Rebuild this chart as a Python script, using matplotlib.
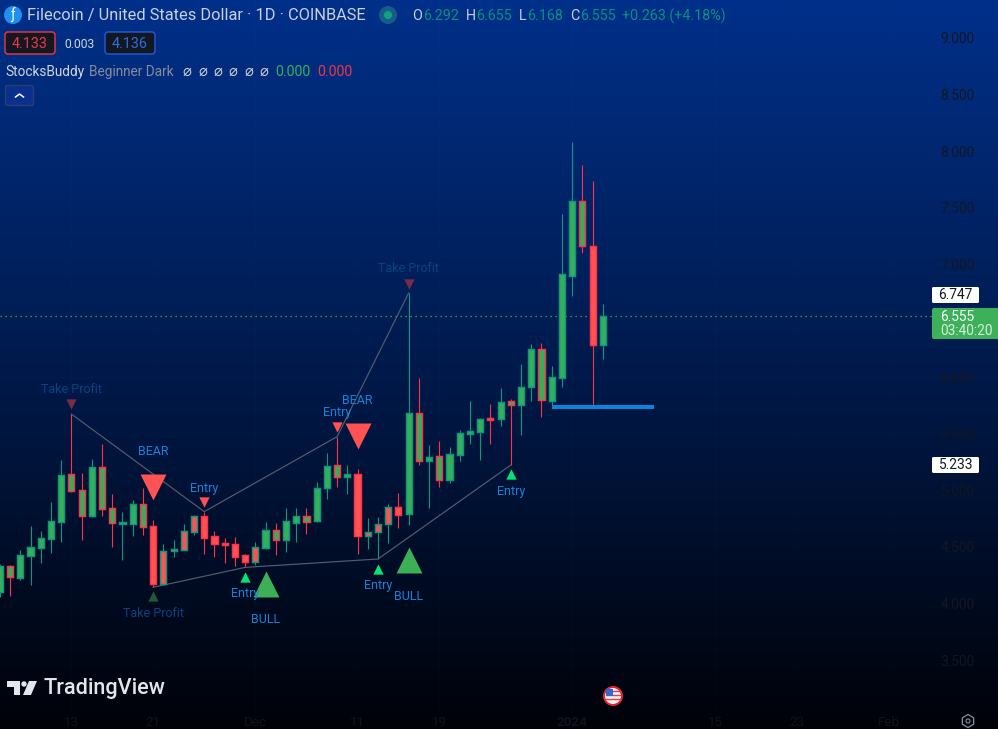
import numpy as np
import matplotlib
matplotlib.use('Agg')
import matplotlib.pyplot as plt
from matplotlib.colors import LinearSegmentedColormap
from matplotlib.patches import Rectangle, Circle, FancyBboxPatch, Polygon, RegularPolygon

plt.rcParams['font.family'] = ['Roboto', 'DejaVu Sans']

# ---------- data ----------
days = list(range(-7, 53))
opens = [4.104,4.328,4.228,4.422,4.493,4.573,4.723,5.142,5.000,4.776,5.203,4.841,4.705,4.705,4.876,
         4.682,4.175,4.467,4.476,4.629,4.773,4.593,4.534,4.523,4.425,4.369,4.493,4.646,4.564,4.714,
         4.770,4.729,5.024,5.221,5.121,5.142,4.599,4.635,4.705,4.853,4.794,5.681,5.262,5.301,5.094,
         5.313,5.501,5.519,5.637,5.634,5.791,5.758,5.917,6.247,5.794,5.997,6.899,7.556,7.158,6.283]
closes = [4.331,4.231,4.425,4.496,4.576,4.726,5.133,4.997,4.776,5.203,4.838,4.714,4.711,4.876,4.679,
          4.175,4.461,4.479,4.638,4.770,4.582,4.529,4.520,4.414,4.369,4.496,4.646,4.564,4.726,4.770,
          4.723,5.018,5.212,5.121,5.142,4.599,4.635,4.705,4.850,4.785,5.681,5.262,5.292,5.094,5.318,
          5.504,5.522,5.628,5.625,5.778,5.758,5.911,6.247,5.796,6.000,6.910,7.556,7.158,6.283,6.539]
highs = [4.345,4.340,4.470,4.685,4.638,4.897,5.268,5.675,5.153,5.277,5.410,4.968,4.806,4.915,5.021,
         4.738,4.526,4.561,4.703,4.782,4.812,4.638,4.579,4.588,4.437,4.543,4.720,4.708,4.841,4.841,
         4.841,5.074,5.327,5.475,5.221,5.189,4.753,4.764,4.876,4.974,6.745,5.993,5.401,5.436,5.380,
         5.531,5.787,5.643,5.763,5.902,5.805,6.118,6.295,6.300,6.100,7.444,8.077,7.877,7.736,6.648]
lows = [4.060,4.066,4.207,4.163,4.361,4.449,4.546,4.988,4.561,4.761,4.776,4.502,4.384,4.596,4.605,
        4.143,4.163,4.414,4.473,4.605,4.437,4.414,4.361,4.331,4.319,4.340,4.481,4.428,4.458,4.543,
        4.614,4.720,4.923,5.033,4.968,4.437,4.481,4.393,4.537,4.670,4.694,5.224,4.847,5.030,5.068,
        5.259,5.410,5.268,5.410,5.569,5.224,5.489,5.794,5.652,5.726,5.917,6.722,7.102,5.740,6.165]
# trend state from the indicator: 1 = bull fill, 0 = bear fill
trend = [1]*15 + [0]*11 + [1]*9 + [0]*5 + [1]*18 + [0] + [1]

line_a_days = [0, 13, 26, 33]
line_a_vals = [5.675, 4.812, 5.475, 6.745]
line_b_days = [8, 17, 30, 43]
line_b_vals = [4.143, 4.319, 4.393, 5.224]
level_days = [47, 57]
level_val = 5.740
last_price = 6.539

big_bear = ([8, 28], [5.034, 5.485])
big_bull = ([19, 33], [4.172, 4.384])
entry_bear = ([13, 26], [4.897, 5.560])
entry_bull = ([17, 30, 43], [4.238, 4.309, 5.145])
tp_bear = ([0, 33], [5.768, 6.825])
tp_bull = ([8], [4.066])

labels_bright = [(8, 5.340, 'BEAR'), (13, 5.013, 'Entry'), (26, 5.685, 'Entry'), (28.0, 5.791, 'BEAR'),
                 (43, 4.986, 'Entry'), (17, 4.084, 'Entry'), (19, 3.854, 'BULL'),
                 (30, 4.155, 'Entry'), (33, 4.060, 'BULL')]
labels_dim = [(0, 5.888, 'Take Profit'), (33, 6.958, 'Take Profit'), (8, 3.907, 'Take Profit')]

y_ticks = [3.5, 4.0, 4.5, 5.0, 5.5, 6.0, 6.5, 7.0, 7.5, 8.0, 8.5, 9.0]
x_ticks = [0, 8, 18, 28, 36, 49, 63, 71, 80]
x_labels = ['13', '21', 'Dec', '11', '19', '2024', '15', '23', 'Feb']

# ---------- colours ----------
UP, DOWN = '#089981', '#FF3048'
FILL_UP, FILL_DOWN = '#39AE58', '#FF5252'
TXT = '#D1D4DC'

fig = plt.figure(figsize=(9.98, 7.29), dpi=100)
ax = fig.add_axes([0, 0, 1, 1])
ax.set_xlim(-6.986, 90.67)
ax.set_ylim(2.890, 9.336)

cmap = LinearSegmentedColormap.from_list('bg', ['#000208', '#001a4c', '#00308A'])
ax.imshow(np.linspace(1, 0, 256)[:, None], cmap=cmap, aspect='auto', zorder=0,
          extent=[-6.986, 90.67, 2.890, 9.336], vmin=0, vmax=1)

for s in ax.spines.values():
    s.set_visible(False)
ax.yaxis.tick_right()
ax.set_yticks(y_ticks)
# the 6.500 label sits behind the last-price tag in the reference
ax.set_yticklabels(['' if v == 6.5 else f'{v:.3f}' for v in y_ticks])
ax.tick_params(axis='y', length=0, pad=-41.5, labelsize=9.9, labelcolor='#131722')
ax.set_xticks(x_ticks)
ax.set_xticklabels(x_labels)
ax.tick_params(axis='x', length=0, pad=-9.2, labelsize=9.6, labelcolor='#10131c')
ax.get_xticklabels()[5].set_fontweight('bold')
ax.grid(True, color='#ffffff', alpha=0.012, lw=0.7, zorder=0.5)

# candles
edge = [UP if c >= o else DOWN for o, c in zip(opens, closes)]
fill = [FILL_UP if t else FILL_DOWN for t in trend]
ax.vlines(days, lows, highs, colors=edge, lw=0.8, zorder=2)
bodies = [max(abs(c - o), 0.012) for o, c in zip(opens, closes)]
ax.bar(days, bodies, bottom=[min(o, c) for o, c in zip(opens, closes)], width=0.60,
       color=fill, edgecolor=edge, linewidth=1.05, zorder=3)

# indicator lines
ax.plot(line_a_days, line_a_vals, color='#555c70', lw=0.85, zorder=2.5)
ax.plot(line_b_days, line_b_vals, color='#555c70', lw=0.85, zorder=2.5)
ax.plot(level_days, [level_val, level_val], color='#0A85DF', lw=2.9, solid_capstyle='butt', zorder=4)
ax.axhline(last_price, color='#3FBF5F', lw=0.9, ls=(0, (1, 3)), zorder=1.5)

# markers
ax.scatter(*big_bear, marker='v', s=350, color='#FF5252', lw=0, zorder=5)
ax.scatter(*big_bull, marker='^', s=350, color='#3CAF57', lw=0, zorder=5)
ax.scatter(*entry_bear, marker='v', s=55, color='#FF5252', lw=0, zorder=5)
ax.scatter(*entry_bull, marker='^', s=55, color='#00E676', lw=0, zorder=5)
ax.scatter(*tp_bear, marker='v', s=55, color='#7C2B45', lw=0, zorder=5)
ax.scatter(*tp_bull, marker='^', s=55, color='#1E5A38', lw=0, zorder=5)
for d, p, t in labels_bright:
    ax.text(d, p, t, color='#1583DA', fontsize=9.0, ha='center', va='center', zorder=6)
for d, p, t in labels_dim:
    ax.text(d, p, t, color='#0B437F', fontsize=9.0, ha='center', va='center', zorder=6)

# ---------- pixel-space chrome ----------
ui = fig.add_axes([0, 0, 1, 1], facecolor='none')
ui.set_xlim(0, 998)
ui.set_ylim(729, 0)
ui.axis('off')

def T(x, y, s, c=TXT, size=9.4, ha='left', w='normal', **kw):
    return ui.text(x, y, s, color=c, fontsize=size, ha=ha, va='center', fontweight=w, **kw)

def box(x0, y0, x1, y1, fc, ec='none', r=2, lw=1):
    ui.add_patch(FancyBboxPatch((x0 + r, y0 + r), x1 - x0 - 2 * r, y1 - y0 - 2 * r,
                                boxstyle=f'round,pad={r},rounding_size={r}', fc=fc, ec=ec, lw=lw, zorder=7))

# header
ui.add_patch(Circle((13, 15), 9, fc='#2090F0', zorder=8))
T(13, 15, '\u0192', c='white', size=10, ha='center', zorder=9)
T(27, 15.5, 'Filecoin / United States Dollar \u00b7 1D \u00b7 COINBASE', size=11.75, c='#C9D0E0', zorder=9)
ui.add_patch(Circle((388, 15), 9, fc='#1A5A8A', zorder=8))
ui.add_patch(Circle((388, 15), 4, fc='#0BA678', zorder=9))
G = '#35B05A'
TEAL = '#0C9080'
ohlc = [(412, 'O', 423, '6.292'), (466, 'H', 476, '6.655'), (519, 'L', 527, '6.168'), (570, 'C', 580, '6.555')]
for x0, a, x1, b in ohlc:
    T(x0, 16, a, size=10.3, c='#C9D0E0', zorder=9)
    T(x1, 16, b, size=10.3, c=TEAL, zorder=9)
T(622, 16, '+0.263 (+4.18%)', size=10.3, c=TEAL, zorder=9)

box(5, 32, 55, 54, '#131722', '#F23645', r=3)
T(30, 43.5, '4.133', c='#F23645', size=10.4, ha='center', zorder=9)
T(80, 44, '0.003', size=8.7, ha='center', zorder=9)
box(105, 32, 155, 54, '#131722', '#1E5FD8', r=3)
T(130, 43.5, '4.136', c='#2A6FE0', size=10.4, ha='center', zorder=9)

T(5, 71.5, 'StocksBuddy', size=9.85, zorder=9)
T(89, 71.5, 'Beginner Dark', size=9.85, c='#868B9C', zorder=9)
for x in [187, 203, 218, 233, 249, 264]:
    T(x, 71.5, '\u2300', size=10.5, ha='center', zorder=9, family='DejaVu Sans')
T(275, 71.5, '0.000', size=10.2, c=G, zorder=9)
T(317, 71.5, '0.000', size=10.2, c='#F23645', zorder=9)
box(5.5, 85.5, 33.5, 105.5, '#0B2F8C', '#2A3E70', r=2)
ui.plot([15.5, 19.5, 23.5], [97, 94, 97], color='white', lw=1.1, zorder=9)

# price scale tags
box(932, 287, 979, 303, 'white', r=1.5)
T(955.5, 295, '6.747', c='#131722', size=9.9, ha='center', zorder=9)
box(932, 457, 979, 473, 'white', r=1.5)
T(955.5, 465, '5.233', c='#131722', size=9.9, ha='center', zorder=9)
box(932, 308, 1003, 339, '#3CB15A', r=2)
T(940, 316.5, '6.555', c='white', size=9.9, zorder=9)
T(940, 330.5, '03:40:20', c='#D5F0DC', size=9.9, zorder=9)

# TradingView logo
ui.add_patch(Polygon([(7, 681), (20, 681), (20, 695), (14, 695), (14, 687), (7, 687)], fc='#E4E6EE', zorder=8))
ui.add_patch(Circle((24, 684), 2.7, fc='#E4E6EE', zorder=8))
ui.add_patch(Polygon([(29, 681), (37, 681), (31, 695), (23, 695)], fc='#E4E6EE', zorder=8))
T(44, 688.5, 'TradingView', c='#E4E6EE', size=15.6, w='medium', zorder=8)

# flag bubble
ui.add_patch(Circle((613, 696), 10, fc='#E5222F', zorder=8))
ui.add_patch(Circle((613, 696), 8, fc='#F2F2F2', zorder=8))
for yy in (691, 695, 699):
    ui.plot([606, 620], [yy, yy], color='#E04050', lw=1.0, zorder=9)
ui.add_patch(Rectangle((606, 689), 7, 7, fc='#2C6CD0', zorder=9))

# settings gear
ui.add_patch(RegularPolygon((968, 721), 6, radius=6.5, fc='none', ec='#8A8F9C', lw=0.9, zorder=8))
ui.add_patch(Circle((968, 721), 2, fc='none', ec='#8A8F9C', lw=0.8, zorder=8))

fig.savefig('out.png', dpi=100)
